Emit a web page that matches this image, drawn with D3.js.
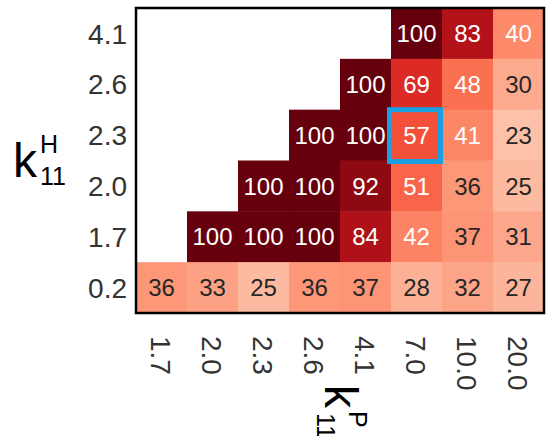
<!DOCTYPE html>
<html>
<head>
<meta charset="utf-8">
<script src="https://cdn.jsdelivr.net/npm/d3@7"></script>
<style>
  html, body { margin: 0; padding: 0; background: #fff; }
  svg { display: block; font-family: "Liberation Sans", Arial, Helvetica, sans-serif; }
</style>
</head>
<body>
<svg id="chart" width="551" height="436"></svg>
<script>
// Column categories (k11 P) and row categories (k11 H, top to bottom)
const xLabels = ["1.7", "2.0", "2.3", "2.6", "4.1", "7.0", "10.0", "20.0"];
const yLabels = ["4.1", "2.6", "2.3", "2.0", "1.7", "0.2"];

// Values per row (null = empty cell)
const row41 = [null, null, null, null, null, 100, 83, 40];
const row26 = [null, null, null, null, 100, 69, 48, 30];
const row23 = [null, null, null, 100, 100, 57, 41, 23];
const row20 = [null, null, 100, 100, 92, 51, 36, 25];
const row17 = [null, 100, 100, 100, 84, 42, 37, 31];
const row02 = [36, 33, 25, 36, 37, 28, 32, 27];
const rows = [row41, row26, row23, row20, row17, row02];

// Highlighted cell
const highlightX = "7.0";
const highlightY = "2.3";

const svg = d3.select("#chart");
const mLeft = 136, mRight = 544, mTop = 8, mBottom = 313;

const x = d3.scaleBand().domain(xLabels).range([mLeft, mRight]).padding(0);
const y = d3.scaleBand().domain(yLabels).range([mTop, mBottom]).padding(0);
const color = d3.scaleSequential(d3.interpolateReds).domain([0, 100]);

const cells = [];
rows.forEach((r, i) => r.forEach((v, j) => {
  if (v !== null) cells.push({ xk: xLabels[j], yk: yLabels[i], v });
}));

const g = svg.append("g");
g.selectAll("rect.cell").data(cells).join("rect")
  .attr("class", "cell")
  .attr("x", d => x(d.xk))
  .attr("y", d => y(d.yk))
  .attr("width", x.bandwidth() + 0.5)
  .attr("height", y.bandwidth() + 0.5)
  .attr("fill", d => color(d.v));

g.selectAll("text.val").data(cells).join("text")
  .attr("class", "val")
  .attr("x", d => x(d.xk) + x.bandwidth() / 2)
  .attr("y", d => y(d.yk) + y.bandwidth() / 2)
  .attr("dy", "0.36em")
  .attr("text-anchor", "middle")
  .attr("font-size", 24)
  .attr("fill", d => d.v >= 40 ? "#ffffff" : "#262626")
  .text(d => d.v);

// Highlight box
svg.append("rect")
  .attr("x", x(highlightX) - 1.5)
  .attr("y", y(highlightY))
  .attr("width", x.bandwidth())
  .attr("height", y.bandwidth() + 1)
  .attr("fill", "none")
  .attr("stroke", "#1a9fe0")
  .attr("stroke-width", 5);

// Frame
svg.append("rect")
  .attr("x", mLeft).attr("y", mTop)
  .attr("width", mRight - mLeft).attr("height", mBottom - mTop)
  .attr("fill", "none").attr("stroke", "#000").attr("stroke-width", 2.5);

// Y axis
const yAxis = svg.append("g")
  .attr("transform", `translate(${mLeft - 9},0)`)
  .call(d3.axisLeft(y).tickSize(0).tickPadding(0));
yAxis.select(".domain").remove();
yAxis.selectAll("text")
  .attr("font-size", 28)
  .attr("font-family", "Liberation Sans, Arial, sans-serif")
  .attr("fill", "#333")
  .attr("dy", "0.36em");

// X axis (labels rotated 90deg)
const xAxis = svg.append("g")
  .attr("transform", `translate(0,${mBottom + 23})`)
  .call(d3.axisBottom(x).tickSize(0).tickPadding(0));
xAxis.select(".domain").remove();
xAxis.selectAll("text")
  .attr("font-size", 28)
  .attr("font-family", "Liberation Sans, Arial, sans-serif")
  .attr("fill", "#333")
  .attr("x", 0).attr("y", 0)
  .attr("dy", "0.36em")
  .attr("text-anchor", "start")
  .attr("transform", "rotate(90)");

// Y axis title: k^H_11
const yt = svg.append("g").attr("fill", "#000");
yt.append("text").attr("x", 13).attr("y", 177).attr("font-size", 48).text("k");
yt.append("text").attr("x", 40).attr("y", 153).attr("font-size", 25).text("H");
yt.append("text").attr("x", 40).attr("y", 185).attr("font-size", 25).text("11");

// X axis title: k^P_11 (rotated)
const xt = svg.append("g").attr("transform", "translate(325,385) rotate(90)").attr("fill", "#000");
xt.append("text").attr("x", 0).attr("y", 0).attr("font-size", 46).text("k");
xt.append("text").attr("x", 26).attr("y", -24).attr("font-size", 25).text("P");
xt.append("text").attr("x", 28).attr("y", 8).attr("font-size", 25).text("11");
</script>
</body>
</html>
